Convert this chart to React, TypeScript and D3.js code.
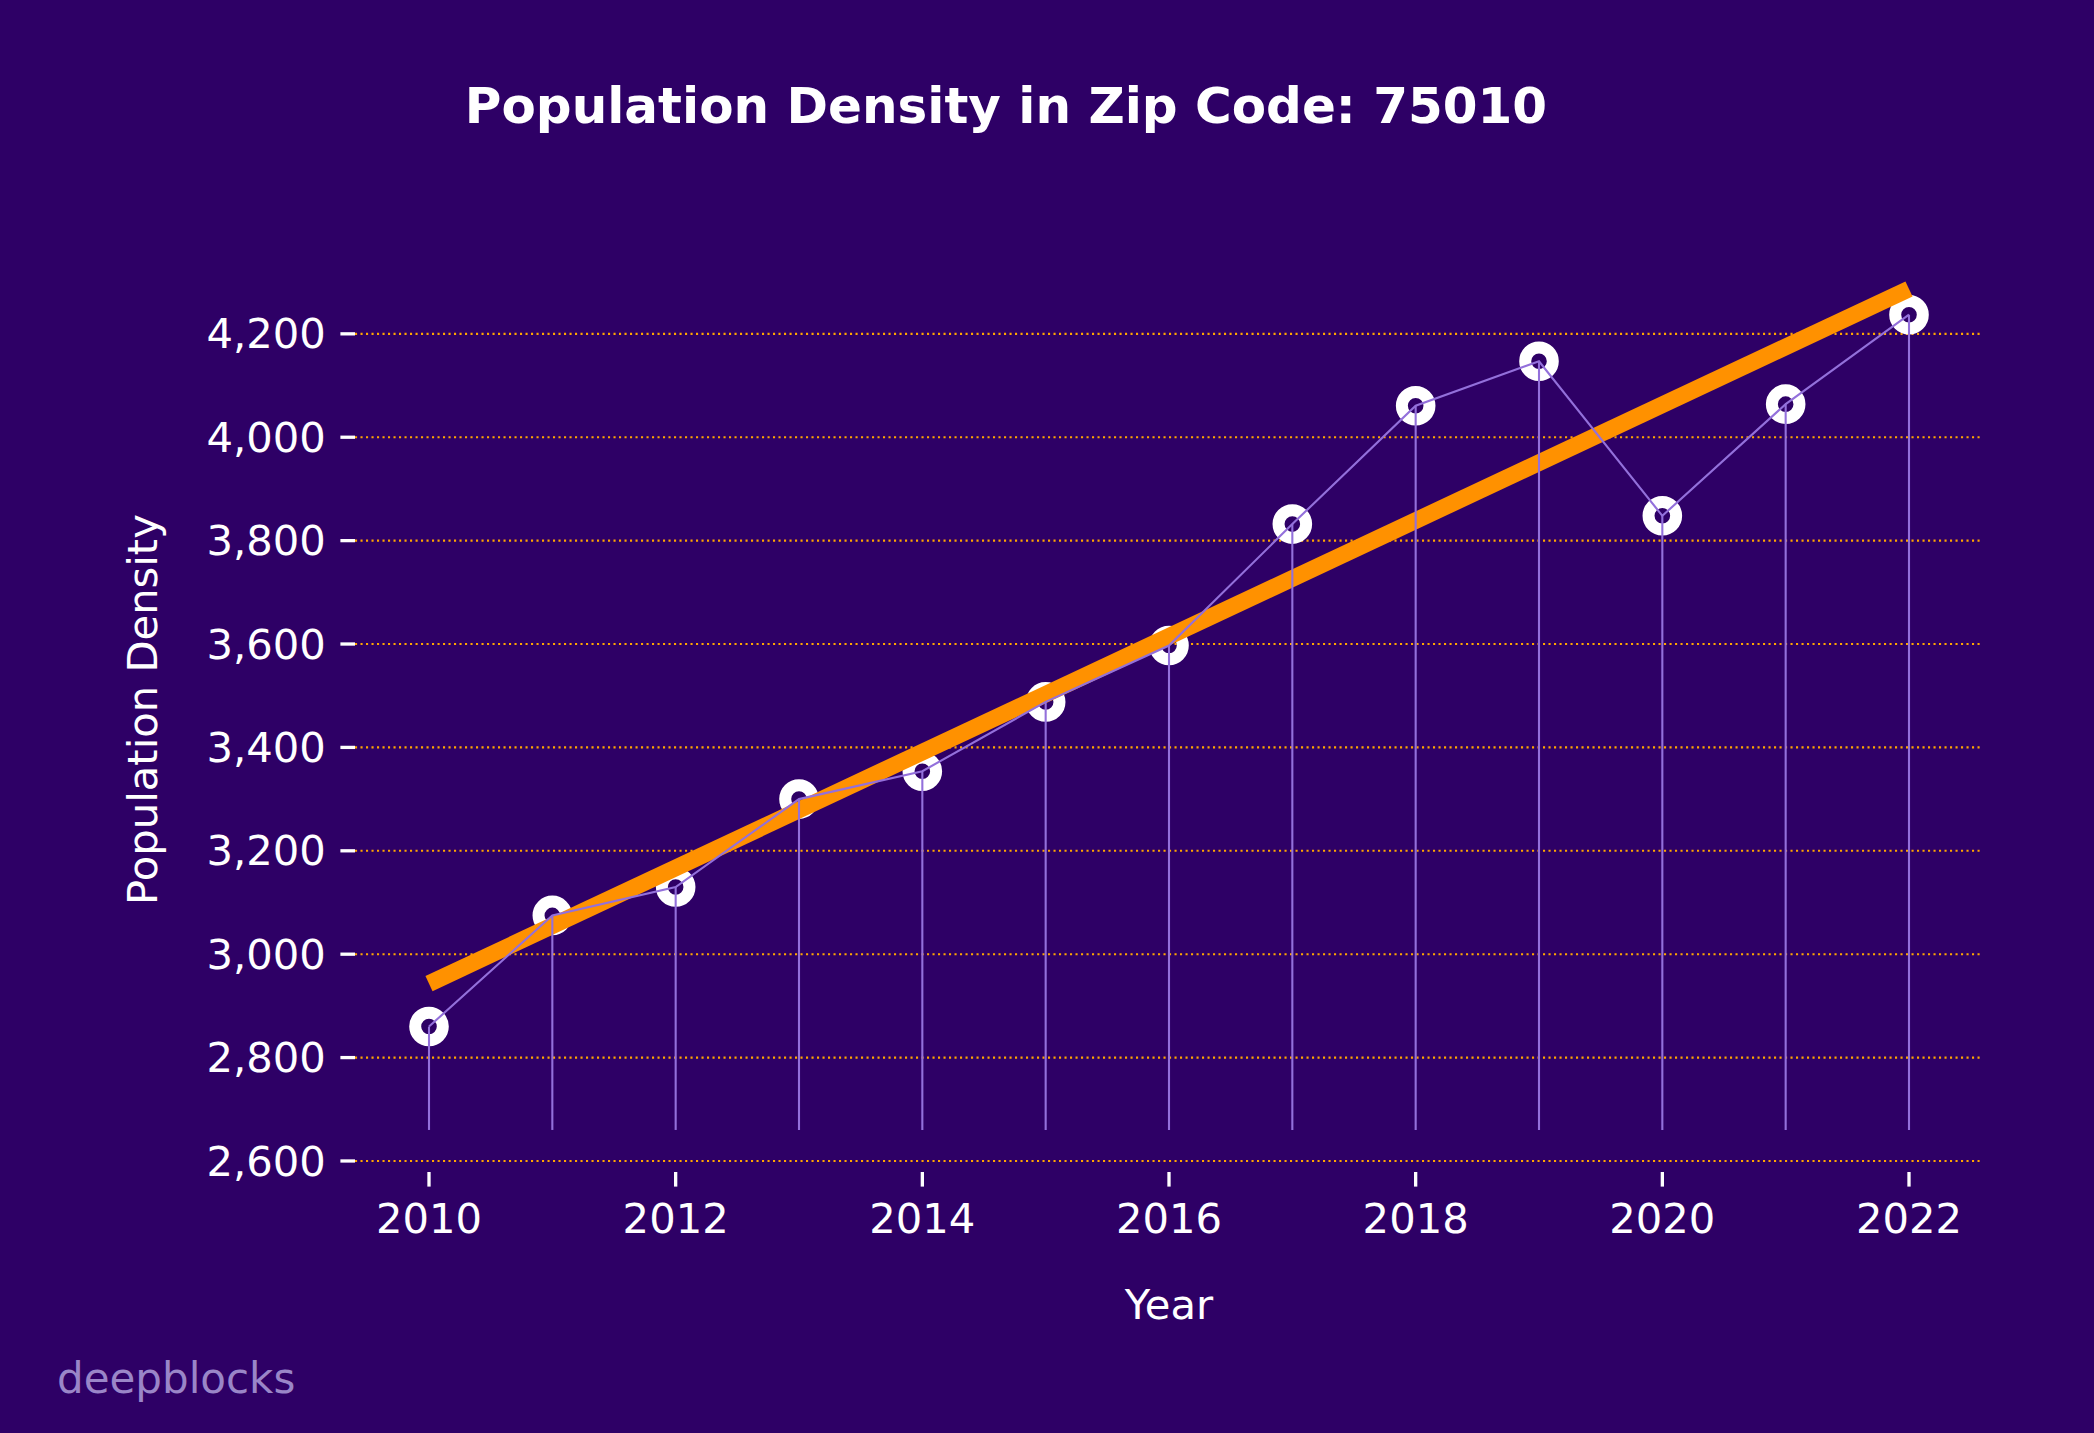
import React from "react";
import * as d3 from "d3";

const years: number[] = [2010, 2011, 2012, 2013, 2014, 2015, 2016, 2017, 2018, 2019, 2020, 2021, 2022];
const density: number[] = [2860, 3075, 3130, 3300, 3354, 3488, 3597, 3832, 4061, 4147, 3848, 4064, 4237];
const yTicks: number[] = [2600, 2800, 3000, 3200, 3400, 3600, 3800, 4000, 4200];
const xTicks: number[] = [2010, 2012, 2014, 2016, 2018, 2020, 2022];
const stemBase = 2660;
const titleText = "Population Density in Zip Code: 75010";
const xLabel = "Year";
const yLabel = "Population Density";
const watermark = "deepblocks";

const W = 2094;
const H = 1433;
const BG = "#2e0066";
const FONT = "DejaVu Sans, sans-serif";

export default function App() {
  const left = 355, right = 1983, top = 247, bottom = 1172;

  // linear regression for trend
  const mx = d3.mean(years)!;
  const my = d3.mean(density)!;
  const sxy = d3.sum(years.map((x, i) => (x - mx) * (density[i] - my)));
  const sxx = d3.sum(years.map((x) => (x - mx) * (x - mx)));
  const slope = sxy / sxx;
  const icpt = my - slope * mx;
  const trend = [years[0], years[years.length - 1]].map((x) => [x, icpt + slope * x] as [number, number]);

  const xr = d3.extent(years) as [number, number];
  const xm = (xr[1] - xr[0]) * 0.05;
  const x = d3.scaleLinear().domain([xr[0] - xm, xr[1] + xm]).range([left, right]);

  const lo = stemBase;
  const hi = Math.max(d3.max(density)!, trend[1][1]);
  const ym = (hi - lo) * 0.05;
  const y = d3.scaleLinear().domain([lo - ym, hi + ym]).range([bottom, top]);

  const line = d3.line<[number, number]>().x((d) => x(d[0])).y((d) => y(d[1]));
  const pts = years.map((yr, i) => [yr, density[i]] as [number, number]);
  const fmt = d3.format(",");
  const tickLen = 14.6;

  return (
    <svg width={W} height={H} style={{ position: "absolute", left: 0, top: 0, background: BG }} fontFamily={FONT}>
      <rect x={0} y={0} width={W} height={H} fill={BG} />
      <text x={1006} y={123} textAnchor="middle" fill="#ffffff" fontSize={50} fontWeight="bold">{titleText}</text>

      {/* grid */}
      {yTicks.map((t) => (
        <line key={"g" + t} x1={left} x2={right} y1={y(t)} y2={y(t)} stroke="#ffa500" strokeWidth={2.1} strokeDasharray="2.1 3.4" />
      ))}

      {/* y axis ticks */}
      {yTicks.map((t) => (
        <g key={"yt" + t}>
          <line x1={left - tickLen} x2={left} y1={y(t)} y2={y(t)} stroke="#ffffff" strokeWidth={3.3} />
          <text x={left - tickLen - 14.6} y={y(t)} dy="0.35em" textAnchor="end" fill="#ffffff" fontSize={41.7}>{fmt(t)}</text>
        </g>
      ))}

      {/* x axis ticks */}
      {xTicks.map((t) => (
        <g key={"xt" + t}>
          <line x1={x(t)} x2={x(t)} y1={bottom} y2={bottom + tickLen} stroke="#ffffff" strokeWidth={3.3} />
          <text x={x(t)} y={1233} textAnchor="middle" fill="#ffffff" fontSize={41.7}>{t}</text>
        </g>
      ))}

      <text x={(left + right) / 2} y={1319} textAnchor="middle" fill="#ffffff" fontSize={41.7}>{xLabel}</text>
      <text transform={`translate(${157},${(top + bottom) / 2}) rotate(-90)`} textAnchor="middle" fill="#ffffff" fontSize={41.7}>{yLabel}</text>

      {/* markers */}
      {pts.map((p) => (
        <circle key={"m" + p[0]} cx={x(p[0])} cy={y(p[1])} r={13.8} fill="none" stroke="#ffffff" strokeWidth={12} />
      ))}

      {/* trend */}
      <path d={line(trend)!} fill="none" stroke="#ff9100" strokeWidth={16.7} strokeLinecap="butt" />

      {/* stems */}
      {pts.map((p) => (
        <line key={"s" + p[0]} x1={x(p[0])} x2={x(p[0])} y1={y(stemBase)} y2={y(p[1])} stroke="#9370db" strokeWidth={2.1} />
      ))}
      <path d={line(pts)!} fill="none" stroke="#9370db" strokeWidth={2.1} />

      <text x={57} y={1393} fill="#9a86c8" fontSize={42}>{watermark}</text>
    </svg>
  );
}
